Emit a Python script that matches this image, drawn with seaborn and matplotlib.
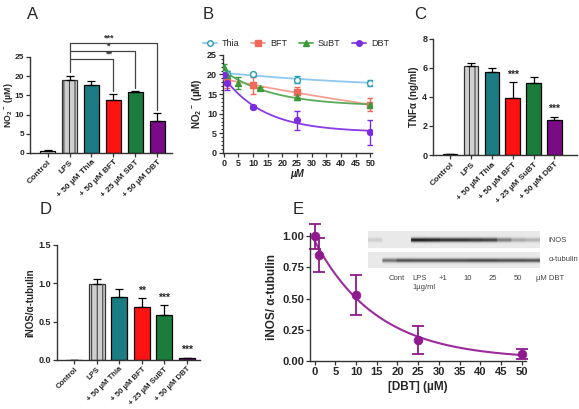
import numpy as np
import pandas as pd
import seaborn as sns
import matplotlib.pyplot as plt
from matplotlib.lines import Line2D
from matplotlib.ticker import MultipleLocator, AutoMinorLocator

# ---- bar panels (A, C, D) ----
groups_a = ['Control', 'LPS', '+ 50 µM Thia', '+ 50 µM BFT', '+ 25 µM SBT', '+ 50 µM DBT']
groups_cd = ['Control', 'LPS', '+ 50 µM Thia', '+ 50 µM BFT', '+ 25 µM SuBT', '+ 50 µM DBT']
no2_mean = [0.4, 19.1, 17.6, 13.9, 15.9, 8.2]
no2_err = [0.3, 0.9, 1.1, 1.5, 0.2, 2.3]
tnf_mean = [0.05, 6.1, 5.75, 3.9, 4.95, 2.4]
tnf_err = [0.03, 0.25, 0.25, 1.1, 0.4, 0.25]
inos_mean = [0.0, 0.99, 0.82, 0.69, 0.58, 0.02]
inos_err = [0.0, 0.07, 0.1, 0.12, 0.14, 0.01]
tnf_stars = ['', '', '', '***', '', '***']
inos_stars = ['', '', '', '**', '***', '***']
# significance brackets in A: LPS vs target group
bracket_target = [3, 4, 5]
bracket_label = ['**', '*', '***']
bracket_height = [24.5, 26.6, 28.6]
bracket_drop = [16.2, 16.8, 11.2]
bar_colors = ['#ffffff', '#cfcfcf', '#1c7c84', '#ff1212', '#1b7d3c', '#7a0a86']

# ---- panel B dose response ----
conc_thia = [0, 1, 10, 25, 50]
no2_thia = [20.4, 20.2, 20.0, 18.7, 17.9]
err_thia = [0.8, 0.6, 0.3, 0.8, 0.8]
conc_bft = [0, 1, 10, 25, 50]
no2_bft = [19.5, 18.0, 17.2, 15.5, 12.3]
err_bft = [1.0, 1.5, 2.2, 1.3, 1.7]
conc_subt = [0, 1, 5, 12.5, 25, 50]
no2_subt = [21.8, 19.8, 17.8, 16.6, 14.2, 12.2]
err_subt = [0.8, 1.0, 1.6, 0.3, 0.8, 0.0]
conc_dbt = [0, 1, 10, 25, 50]
no2_dbt = [19.8, 17.8, 11.7, 8.3, 5.3]
err_dbt = [1.0, 1.8, 0.5, 2.5, 3.2]

# ---- panel E ----
conc_e = [0, 1, 10, 25, 50]
ratio_e = [1.0, 0.85, 0.53, 0.17, 0.06]
err_e = [0.1, 0.14, 0.16, 0.11, 0.04]

# ---- western blot inset (band intensity per lane) ----
inos_lanes = [0.12, 0.0, 0.0, 0.95, 0.92, 0.85, 0.85, 0.82, 0.78, 0.5, 0.3, 0.25]
tub_lanes = [0.0, 0.55, 0.72, 0.7, 0.7, 0.72, 0.72, 0.75, 0.75, 0.72, 0.72, 0.7]
blot_labels = ['Cont', 'LPS', '+1', '10', '25', '50', 'µM DBT']

sns.set_style('ticks')
plt.rcParams['font.family'] = ['Liberation Sans', 'DejaVu Sans']
plt.rcParams['font.weight'] = 'bold'
plt.rcParams['axes.labelweight'] = 'bold'
plt.rcParams['mathtext.fontset'] = 'custom'
plt.rcParams['mathtext.rm'] = 'Liberation Sans:bold'
plt.rcParams['mathtext.bf'] = 'Liberation Sans:bold'
plt.rcParams['mathtext.default'] = 'bf'
plt.rcParams['hatch.linewidth'] = 0.7
plt.rcParams['axes.linewidth'] = 1.0

fig = plt.figure(figsize=(5.79, 4.09), dpi=100)


def style_axis(ax, fs=6.5):
    sns.despine(ax=ax)
    ax.tick_params(axis='both', length=3, width=0.9, labelsize=fs, pad=1.2, color='#333333')
    for s in ax.spines.values():
        s.set_color('#333333')


def bar_panel(ax, labels, means, errs, xfs=6):
    df = pd.DataFrame({'group': labels, 'value': means})
    pal = dict(zip(labels, bar_colors))
    sns.barplot(data=df, x='group', y='value', hue='group', palette=pal, legend=False,
                width=0.7, edgecolor='black', linewidth=0.9, saturation=1, ax=ax)
    ax.patches[1].set_hatch('|||')
    ax.patches[1].set_edgecolor('#333333')
    ax.errorbar(range(len(means)), means, yerr=[np.zeros(len(errs)), errs], fmt='none',
                ecolor='black', elinewidth=0.9, capsize=3, capthick=0.9)
    ax.set_xticks(range(len(labels)))
    ax.set_xticklabels(labels, rotation=45, ha='right', rotation_mode='anchor')
    ax.set_xlabel('')
    style_axis(ax)
    ax.tick_params(axis='x', labelsize=xfs)


def decay_fit(x, y):
    # one-phase decay y = plateau + span*exp(-k x), grid search k
    x = np.asarray(x, float)
    y = np.asarray(y, float)
    best = None
    for k in np.linspace(0.002, 1.0, 500):
        A = np.column_stack([np.ones_like(x), np.exp(-k * x)])
        coef, *_ = np.linalg.lstsq(A, y, rcond=None)
        r = np.sum((A @ coef - y) ** 2)
        if best is None or r < best[0]:
            best = (r, k, coef)
    _, k, coef = best
    xs = np.linspace(0, 50, 200)
    return xs, coef[0] + coef[1] * np.exp(-k * xs)


# ---------------- A ----------------
axA = fig.add_axes([0.052, 0.626, 0.245, 0.235])
bar_panel(axA, groups_a, no2_mean, no2_err)
axA.set_xlim(-0.8, 5.67)
axA.set_ylim(0, 25)
axA.yaxis.set_major_locator(MultipleLocator(5))
axA.tick_params(axis='y', labelsize=6)
axA.set_ylabel('NO$_2$$^-$ (µM)', fontsize=6.3)
axA.yaxis.set_label_coords(-0.11, 0.5)
for t, lab, h, d in zip(bracket_target, bracket_label, bracket_height, bracket_drop):
    axA.plot([1, t, t], [h, h, d], color='#444444', lw=0.9, clip_on=False)
    axA.text(2.8, h + 0.15, lab, ha='center', va='bottom', fontsize=6.5, color='#333333')
axA.plot([1, 1], [21.0, bracket_height[-1]], color='#444444', lw=0.9, clip_on=False)

# ---------------- B ----------------
axB = fig.add_axes([0.385, 0.626, 0.257, 0.24])
series = [
    ('Thia', conc_thia, no2_thia, err_thia, 'o', 'white', '#2a9db5', '#8cc8f0'),
    ('BFT', conc_bft, no2_bft, err_bft, 's', '#f0695a', '#f0695a', '#f5a090'),
    ('SuBT', conc_subt, no2_subt, err_subt, '^', '#3a9a3a', '#3a9a3a', '#5aaa5a'),
    ('DBT', conc_dbt, no2_dbt, err_dbt, 'o', '#7b2be0', '#7b2be0', '#8a3ae6'),
]
handles = []
for name, xx, yy, ee, mk, fc, ec, lc in series:
    xs, ys = decay_fit(xx, yy)
    sns.lineplot(x=xs, y=ys, color=lc, lw=1.3, ax=axB)
    axB.errorbar(xx, yy, yerr=ee, fmt='none', ecolor=ec, elinewidth=1.0, capsize=2.5, capthick=1.0)
    sns.scatterplot(x=xx, y=yy, marker=mk, s=18, color=fc, edgecolor=ec, linewidth=1.0, zorder=5, ax=axB)
    handles.append(Line2D([], [], color=lc, lw=1.3, marker=mk, markersize=4,
                          markerfacecolor=fc, markeredgecolor=ec, label=name))
axB.set_xlim(-0.3, 50.5)
axB.set_ylim(0, 25)
axB.xaxis.set_major_locator(MultipleLocator(5))
axB.yaxis.set_major_locator(MultipleLocator(5))
axB.yaxis.set_minor_locator(AutoMinorLocator(5))
style_axis(axB)
axB.tick_params(axis='y', which='minor', length=1.5, width=0.7)
axB.set_ylabel('NO$_2$$^-$ (µM)', fontsize=7, labelpad=2)
axB.set_xlabel('µM', fontsize=7, style='italic', labelpad=1)
axB.legend(handles=handles, loc='lower left', bbox_to_anchor=(-0.16, 1.03), ncol=4,
           frameon=False, handlelength=1.6, columnspacing=1.3,
           handletextpad=0.5, borderaxespad=0, prop={'weight': 'normal', 'size': 6.5})

# ---------------- C ----------------
axC = fig.add_axes([0.748, 0.621, 0.249, 0.284])
bar_panel(axC, groups_cd, tnf_mean, tnf_err)
axC.set_xlim(-0.82, 6.1)
axC.set_ylim(0, 8)
axC.yaxis.set_major_locator(MultipleLocator(2))
axC.set_ylabel('TNFα (ng/ml)', fontsize=7, labelpad=2)
for i, s in enumerate(tnf_stars):
    if s:
        axC.text(i, tnf_mean[i] + tnf_err[i] + 0.2, s, ha='center', va='bottom', fontsize=7.5)

# ---------------- D ----------------
axD = fig.add_axes([0.098, 0.12, 0.247, 0.281])
bar_panel(axD, groups_cd, inos_mean, inos_err, xfs=5.6)
axD.set_xlim(-0.78, 5.58)
axD.set_ylim(0, 1.5)
axD.yaxis.set_major_locator(MultipleLocator(0.5))
axD.yaxis.set_major_formatter('{x:.1f}')
axD.set_ylabel('iNOS/α-tubulin', fontsize=7, labelpad=2)
for i, s in enumerate(inos_stars):
    if s:
        axD.text(i, inos_mean[i] + inos_err[i] + 0.03, s, ha='center', va='bottom', fontsize=7.5)

# ---------------- E ----------------
axE = fig.add_axes([0.535, 0.117, 0.373, 0.313])
xs, ys = decay_fit(conc_e, ratio_e)
sns.lineplot(x=xs, y=ys, color='#9b2a9b', lw=1.5, ax=axE)
axE.errorbar(conc_e, ratio_e, yerr=err_e, fmt='none', ecolor='#8e1a8e', elinewidth=1.3,
             capsize=4.5, capthick=1.3, clip_on=False)
sns.scatterplot(x=conc_e, y=ratio_e, s=40, color='#8e1a8e', edgecolor='#8e1a8e', zorder=5,
                clip_on=False, ax=axE)
axE.set_xlim(-1.2, 51)
axE.set_ylim(0, 1.025)
axE.xaxis.set_major_locator(MultipleLocator(5))
axE.yaxis.set_major_locator(MultipleLocator(0.25))
axE.yaxis.set_major_formatter('{x:.2f}')
style_axis(axE, fs=8)
axE.set_ylabel('iNOS/ α-tubulin', fontsize=8.5, labelpad=3)
axE.set_xlabel('[DBT] (µM)', fontsize=8.5, labelpad=3)


def blot_strip(rect, lanes):
    ax = fig.add_axes(rect)
    h, per = 20, 12
    prof = np.exp(-((np.arange(h) - h / 2) / 2.4) ** 2)
    row = np.repeat(lanes, per)
    img = 0.1 + np.outer(prof, row)
    ax.imshow(img, cmap='gray_r', vmin=0, vmax=1.15, aspect='auto', interpolation='bilinear')
    ax.set_axis_off()
    return ax


blot_strip([0.636, 0.394, 0.297, 0.04], inos_lanes)
blot_strip([0.636, 0.345, 0.297, 0.038], tub_lanes)
fig.text(0.947, 0.412, 'iNOS', fontsize=5.5, weight='normal', va='center', color='#444444')
fig.text(0.947, 0.366, 'α-tubulin', fontsize=5.5, weight='normal', va='center', color='#444444')
for lab, xp in zip(blot_labels, [0.686, 0.725, 0.765, 0.808, 0.851, 0.895, 0.95]):
    fig.text(xp, 0.32, lab, fontsize=5.5, weight='normal', ha='center', va='center', color='#444444')
fig.text(0.733, 0.296, '1µg/ml', fontsize=5.5, weight='normal', ha='center', va='center', color='#444444')

# panel letters
for lab, xp, yp in [('A', 0.047, 0.965), ('B', 0.35, 0.965), ('C', 0.716, 0.965),
                    ('D', 0.068, 0.487), ('E', 0.506, 0.487)]:
    fig.text(xp, yp, lab, fontsize=12, weight='normal', ha='left', va='center')

fig.savefig('out.png', dpi=100)
